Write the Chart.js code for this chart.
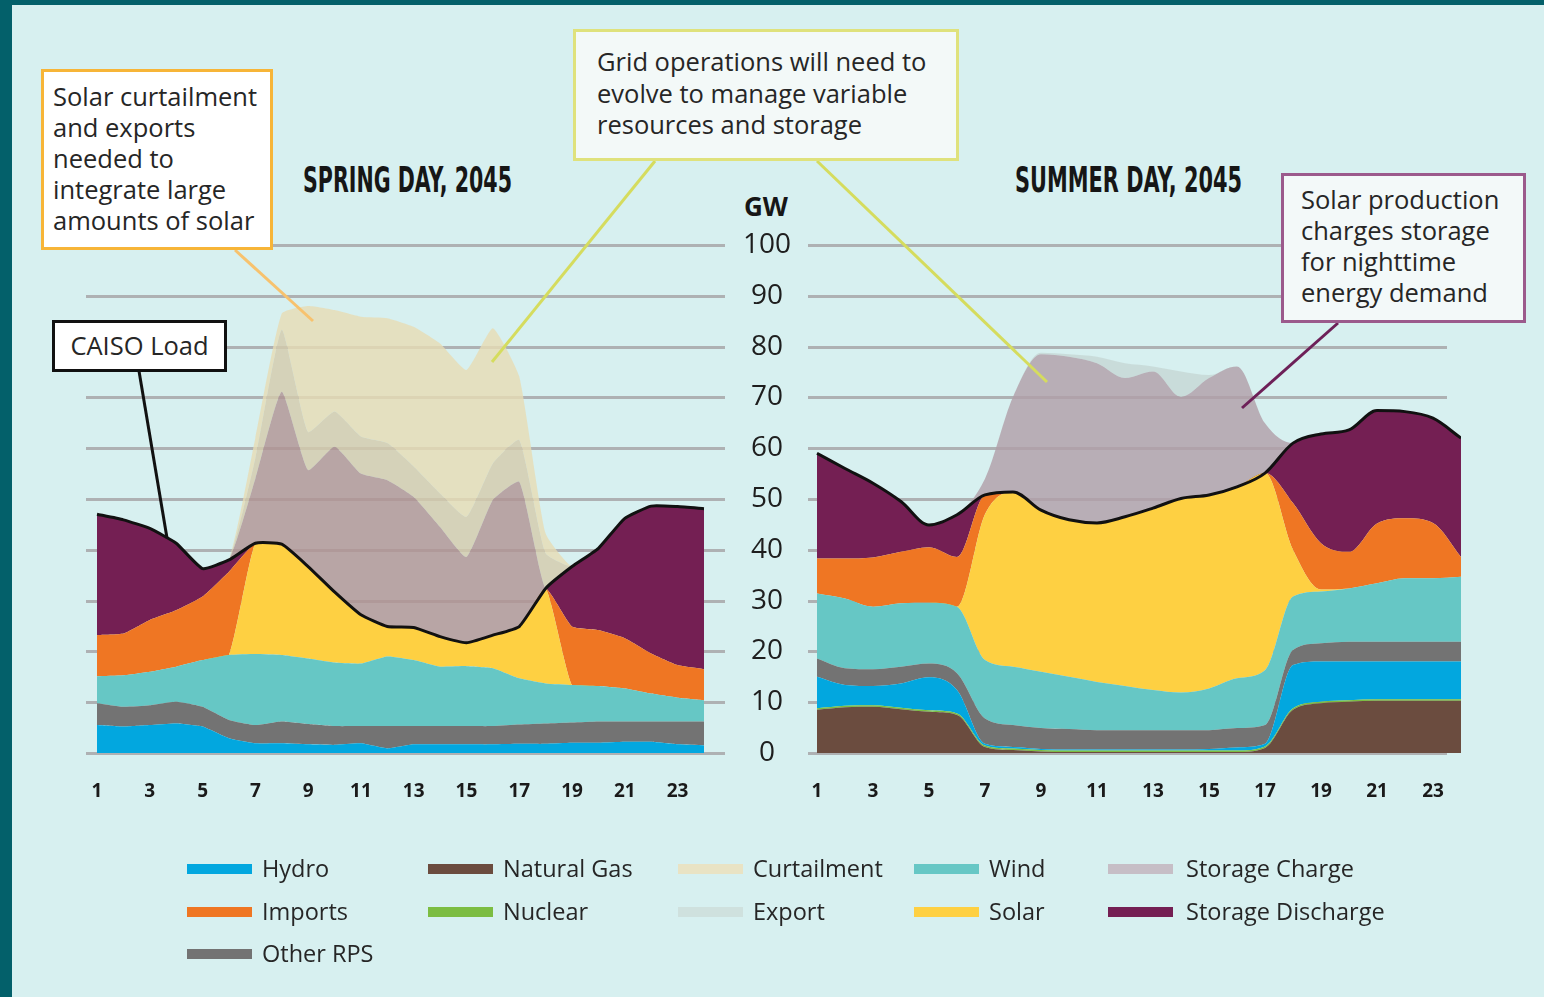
<!DOCTYPE html>
<html><head><meta charset="utf-8">
<script src="https://cdn.jsdelivr.net/npm/chart.js@4.4.1/dist/chart.umd.min.js"></script>
<style>
html,body{margin:0;padding:0;}
body{width:1544px;height:997px;position:relative;overflow:hidden;background:#03606a;font-family:'Open Sans',sans-serif;color:#222;}
#panel{position:absolute;left:12px;top:5px;width:1532px;height:992px;background:#d7f0f0;}
canvas{position:absolute;}
.title{position:absolute;font-family:'DejaVu Sans Condensed','DejaVu Sans',sans-serif;font-weight:bold;font-size:36px;line-height:36px;white-space:nowrap;transform-origin:0 0;color:#161616;}
.box{position:absolute;box-sizing:border-box;border:3px solid;font-size:25.5px;line-height:31px;white-space:nowrap;color:#262626;}
.leg{position:absolute;font-size:23.5px;line-height:30px;white-space:nowrap;color:#262626;}
.sw{position:absolute;width:65px;height:10px;}
#gw{position:absolute;left:716px;top:193px;width:100px;text-align:center;font-weight:bold;font-size:26px;line-height:26px;color:#161616;}
</style></head>
<body>
<div id="panel"></div>
<canvas id="cSpring" width="639" height="588" style="left:86px;top:225px;width:639px;height:588px"></canvas>
<canvas id="cSummer" width="737" height="588" style="left:724px;top:225px;width:737px;height:588px"></canvas>
<div id="gw">GW</div>
<div class="title" id="tSpring" style="left:303px;top:162px">SPRING DAY, 2045</div>
<div class="title" id="tSummer" style="left:1015px;top:162px">SUMMER DAY, 2045</div>
<svg style="position:absolute;left:0;top:0" width="1544" height="997">
  <line x1="235" y1="250" x2="313" y2="321" stroke="#f7c26e" stroke-width="3"/>
  <line x1="655" y1="161" x2="492" y2="362" stroke="#d5dc5e" stroke-width="3"/>
  <line x1="817" y1="161" x2="1047" y2="382" stroke="#d5dc5e" stroke-width="3"/>
  <line x1="1338" y1="323" x2="1242" y2="408" stroke="#6d2058" stroke-width="3"/>
  <line x1="139" y1="371" x2="167" y2="538" stroke="#111" stroke-width="3"/>
</svg>
<div class="box" style="left:41px;top:69px;width:232px;height:181px;border-color:#f7b538;background:#fff;padding:8.6px 0 0 9px;">Solar curtailment<br>and exports<br>needed to<br>integrate large<br>amounts of solar</div>
<div class="box" style="left:573px;top:29px;width:386px;height:132px;border-color:#dfe27c;background:#f3f9f8;padding:14px 0 0 21px;line-height:31.6px;">Grid operations will need to<br>evolve to manage variable<br>resources and storage</div>
<div class="box" style="left:1281px;top:173px;width:245px;height:150px;border-color:#9b5a8c;background:#f3f9f9;padding:8.3px 0 0 17px;">Solar production<br>charges storage<br>for nighttime<br>energy demand</div>
<div class="box" style="left:52px;top:320px;width:175px;height:52px;border-color:#111;background:#fff;text-align:center;line-height:44px;">CAISO Load</div>
<div id="legend"></div>
<script>
// ---------------- DATA ----------------
const hours = [1,2,3,4,5,6,7,8,9,10,11,12,13,14,15,16,17,18,19,20,21,22,23,24];
const xTickValues = [1,3,5,7,9,11,13,15,17,19,21,23];
const xTickLabels = ['1','3','5','7','9','11','13','15','17','19','21','23'];
const yTickValues = [0,10,20,30,40,50,60,70,80,90,100];
const yTickLabels = ['0','10','20','30','40','50','60','70','80','90','100'];
const seriesNames = ['Natural Gas','Nuclear','Hydro','Other RPS','Wind','Solar','Imports','Storage Discharge','Storage Charge','Export','Curtailment'];
const legendOrder = ['Hydro','Natural Gas','Curtailment','Wind','Storage Charge','Imports','Nuclear','Export','Solar','Storage Discharge','Other RPS'];

// Spring day, 2045 (GW)
const springGas       = [0,0,0,0,0,0,0,0,0,0,0,0,0,0,0,0,0,0,0,0,0,0,0,0];
const springNuclear   = [0,0,0,0,0,0,0,0,0,0,0,0,0,0,0,0,0,0,0,0,0,0,0,0];
const springHydro     = [5.5,5.2,5.5,5.8,5.2,2.9,1.9,1.9,1.7,1.6,1.9,0.9,1.7,1.7,1.7,1.7,1.8,1.8,2.0,2.0,2.2,2.2,1.7,1.5];
const springOther     = [4.3,3.9,3.9,4.3,3.9,3.6,3.6,4.3,4.0,3.7,3.4,4.4,3.6,3.6,3.6,3.6,3.8,4.0,4.0,4.2,4.0,4.0,4.5,4.7];
const springWind      = [5.3,6.2,6.6,6.9,9.2,12.8,14.0,13.1,12.9,12.5,12.3,13.7,13.0,11.7,11.8,11.4,9.1,7.9,7.4,7.0,6.5,5.5,4.7,4.2];
const springSolar     = [0,0,0,0,0,0,21.8,21.8,18.1,13.9,9.6,5.9,6.4,5.9,4.6,6.5,10.2,18.7,0,0,0,0,0,0];
const springImports   = [8.1,8.2,10.2,11.1,12.5,16.4,0,0,0,0,0,0,0,0,0,0,0,0,11.5,11.0,9.9,7.9,6.4,6.1];
const springDischarge = [23.8,22.4,18.0,13.2,5.5,2.3,0,0,0,0,0,0,0,0,0,0,0,0,11.8,16.1,23.6,29.0,31.2,31.6];
const springCharge    = [0,0,0,0,0,0,12.7,30.0,19.0,28.6,27.8,28.8,25.7,21.6,16.9,26.6,28.5,0,0,0,0,0,0,0];
const springExport    = [0,0,0,0,0,0,4.0,12.2,7.5,6.9,7.3,7.3,6.0,6.6,7.9,7.2,8.2,6.9,0,0,0,0,0,0];
const springCurtail   = [0,0,0,0,0,0,4.0,3.2,24.8,20.0,23.6,24.6,27.5,29.5,28.9,26.6,12.5,3.9,0,0,0,0,0,0];

// Summer day, 2045 (GW)
const summerGas       = [8.5,9.0,9.1,8.6,8.1,7.5,1.2,0.6,0.3,0.2,0.2,0.2,0.2,0.2,0.2,0.2,1.0,8.5,9.8,10.1,10.3,10.3,10.3,10.3];
const summerNuclear   = [0.3,0.3,0.3,0.3,0.3,0.3,0.3,0.3,0.3,0.3,0.3,0.3,0.3,0.3,0.3,0.3,0.3,0.3,0.3,0.3,0.3,0.3,0.3,0.3];
const summerHydro     = [6.2,4.1,3.8,4.8,6.5,4.6,0.3,0.3,0.2,0.2,0.2,0.2,0.2,0.2,0.3,0.6,0.5,8.5,7.9,7.6,7.4,7.4,7.4,7.4];
const summerOther     = [3.6,3.3,3.3,3.3,2.7,3.3,5.0,4.3,4.1,4.0,3.8,3.8,3.8,3.8,3.7,3.8,3.7,3.0,3.6,3.9,3.9,3.9,3.9,3.9];
const summerWind      = [12.8,13.7,12.3,12.5,12.0,13.1,11.5,11.5,11.1,10.3,9.5,8.7,7.9,7.4,8.2,9.8,10.8,10.5,10.2,10.5,11.5,12.5,12.5,12.8];
const summerSolar     = [0,0,0,0,0,0,28.7,34.4,31.8,30.9,31.3,33.3,35.8,38.2,38.1,37.7,38.8,9.2,0.4,0,0,0,0,0];
const summerImports   = [6.9,7.9,9.7,10.1,10.9,9.8,3.8,0,0,0,0,0,0,0,0,0,0,9.2,9.1,7.2,11.8,11.8,10.9,3.9];
const summerDischarge = [20.7,17.7,14.6,9.9,4.4,8.3,0,0,0,0,0,0,0,0,0,0,0,11.8,21.5,24.0,22.2,21.0,20.6,23.4];
const summerCharge    = [0,0,0,0,0,0,3.2,18.7,30.7,32.1,31.4,27.3,26.9,20.0,23.0,23.7,9.8,0,0,0,0,0,0,0];
const summerExport    = [0,0,0,0,0,0,0,0,0.3,0.5,1.3,2.9,1.0,5.0,0.6,0,0,0,0,0,0,0,0,0];
const summerCurtail   = [0,0,0,0,0,0,0,0,0,0,0,0,0,0,0,0,0,0,0,0,0,0,0,0];

// ---------------- STYLE ----------------
const legendColors = {
  'Natural Gas':'#6b4c3f','Nuclear':'#7cbd42','Hydro':'#02a7df','Other RPS':'#737373','Wind':'#66c7c5',
  'Solar':'#fed042','Imports':'#ef7623','Storage Discharge':'#741f53','Storage Charge':'#c6bec6',
  'Export':'#cfe1de','Curtailment':'#e9e3c4'
};
const springFill = Object.assign({}, legendColors, {
  'Storage Charge':'rgba(176,146,146,0.8)','Export':'rgba(212,202,171,0.8)','Curtailment':'rgba(231,220,180,0.8)'
});
const summerFill = Object.assign({}, legendColors, {
  'Storage Charge':'rgba(176,157,167,0.8)','Export':'rgba(197,215,212,0.8)','Curtailment':'rgba(231,220,180,0.8)'
});

const hGrid = {
  id:'hGrid',
  beforeDraw(chart, args, opts){
    const {ctx, chartArea, scales:{x, y}} = chart;
    const x0 = chartArea.left;
    const x1 = (opts.endValue != null) ? x.getPixelForValue(opts.endValue) : chartArea.right;
    ctx.save();
    ctx.strokeStyle = 'rgba(140,125,130,0.55)';
    ctx.lineWidth = 3;
    yTickValues.forEach(v => {
      const py = Math.round(y.getPixelForValue(v)) + 0.5;
      ctx.beginPath(); ctx.moveTo(x0, py); ctx.lineTo(x1, py); ctx.stroke();
    });
    ctx.restore();
  }
};

function makeDatasets(values, fills){
  return seriesNames.map((name, i) => ({
    label: name,
    data: hours.map((h, j) => ({x: h, y: values[i][j]})),
    backgroundColor: fills[name],
    borderColor: name === 'Storage Discharge' ? '#111' : 'rgba(0,0,0,0)',
    borderWidth: name === 'Storage Discharge' ? 3 : 0,
    borderJoinStyle: 'round',
    fill: i === 0 ? 'origin' : '-1',
    pointRadius: 0,
    pointHoverRadius: 0
  }));
}

function makeChart(id, values, fills, xmin, xmax, showY, tension, gridEnd){
  const yAxis = {
    stacked: true, min: 0, max: 100, display: showY,
    grid: { display: false, drawTicks: true, tickLength: 17 }, border: { display: false },
    afterBuildTicks: s => { s.ticks = yTickValues.map(v => ({ value: v })); },
    ticks: {
      padding: 0, crossAlign: 'center', color: '#1e1e1e',
      font: { family: 'Open Sans', size: 28 },
      callback: (v, i) => yTickLabels[i]
    }
  };
  if (showY) yAxis.afterFit = s => { s.width = 84; };
  return new Chart(document.getElementById(id), {
    type: 'line',
    data: { datasets: makeDatasets(values, fills) },
    plugins: [hGrid],
    options: {
      responsive: false, animation: false, events: [],
      layout: { padding: { top: 20, left: 0, right: 0, bottom: 0 } },
      elements: { line: tension === 'monotone' ? { cubicInterpolationMode: 'monotone' } : { tension: tension } },
      plugins: {
        legend: { display: false }, tooltip: { enabled: false },
        filler: { propagate: false, drawTime: 'beforeDatasetsDraw' },
        hGrid: { endValue: gridEnd }
      },
      scales: {
        x: {
          type: 'linear', min: xmin, max: xmax, bounds: 'data', offset: false,
          grid: { display: false, drawTicks: true, tickLength: 27 }, border: { display: false },
          afterBuildTicks: s => { s.ticks = xTickValues.map(v => ({ value: v })); },
          afterFit: s => { s.height = 60; },
          ticks: {
            autoSkip: false, maxRotation: 0, padding: 0, color: '#1a1a1a',
            font: { family: 'Open Sans', weight: 'bold', size: 19 },
            callback: (v, i) => xTickLabels[i]
          }
        },
        y: yAxis
      }
    }
  });
}

const springValues = [springGas, springNuclear, springHydro, springOther, springWind, springSolar, springImports, springDischarge, springCharge, springExport, springCurtail];
const summerValues = [summerGas, summerNuclear, summerHydro, summerOther, summerWind, summerSolar, summerImports, summerDischarge, summerCharge, summerExport, summerCurtail];

makeChart('cSpring', springValues, springFill, 0.5832, 24.796, false, 0.15, null);
makeChart('cSummer', summerValues, summerFill, 0.6786, 24, true, 'monotone', 23.5);

// ---------------- LEGEND ----------------
const legCols = [187, 428, 678, 914, 1108];
const legRows = [869, 912, 954];
const legendEl = document.getElementById('legend');
legendOrder.forEach((name, i) => {
  const c = i % 5, r = Math.floor(i / 5);
  const sw = document.createElement('div');
  sw.className = 'sw';
  sw.style.left = legCols[c] + 'px';
  sw.style.top = (legRows[r] - 5) + 'px';
  sw.style.background = legendColors[name];
  legendEl.appendChild(sw);
  const t = document.createElement('div');
  t.className = 'leg';
  t.style.left = (legCols[c] + (c === 4 ? 78 : 75)) + 'px';
  t.style.top = (legRows[r] - 16) + 'px';
  t.textContent = name;
  legendEl.appendChild(t);
});

// ---------------- TITLES ----------------
function fitTitle(id, target){
  const el = document.getElementById(id);
  const w = el.getBoundingClientRect().width;
  el.style.transform = 'scaleX(' + (target / w) + ')';
}
fitTitle('tSpring', 209);
fitTitle('tSummer', 227);
</script>
</body></html>
